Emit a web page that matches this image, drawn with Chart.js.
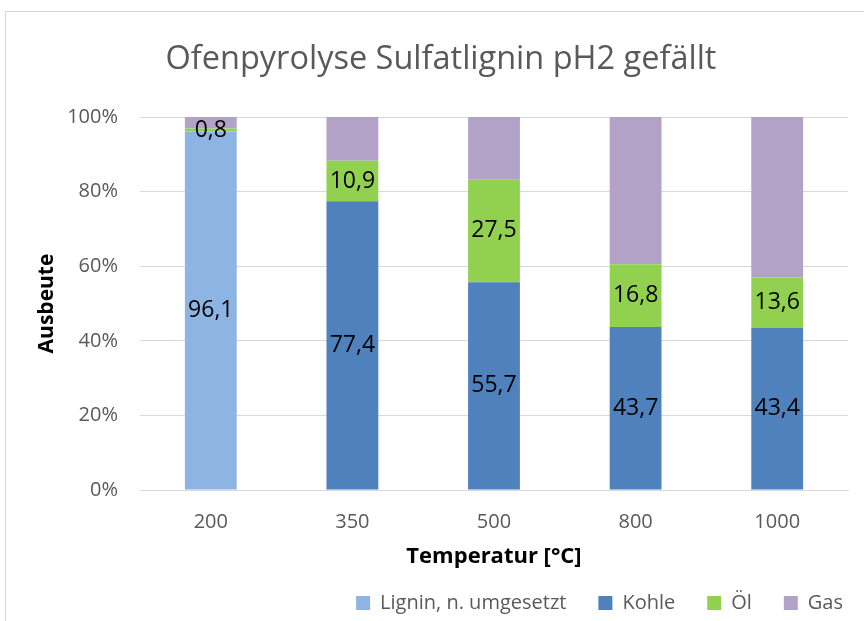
<!DOCTYPE html>
<html>
<head>
<meta charset="utf-8">
<script src="https://cdn.jsdelivr.net/npm/chart.js@4.4.1/dist/chart.umd.min.js"></script>
<style>
  html, body { margin: 0; padding: 0; background: #fff; }
  #wrap { width: 864px; height: 621px; }
</style>
</head>
<body>
<div id="wrap"><canvas id="c" width="864" height="621"></canvas></div>
<script>
// Temperatures (°C) and yield shares (%) per fraction
const categories = ['200', '350', '500', '800', '1000'];
const lignin = [96.1, null, null, null, null];
const kohle  = [null, 77.4, 55.7, 43.7, 43.4];
const oel    = [0.8, 10.9, 27.5, 16.8, 13.6];
const gas    = [3.1, 11.7, 16.8, 39.5, 43.0];
const yTicks = [0, 20, 40, 60, 80, 100];

const FONT = "'Open Sans', 'Liberation Sans', sans-serif";
const LEGEND_PAD = 32;      // horizontal gap between legend entries
const LEGEND_BAND = 28;     // vertical room kept for the legend row
const LEGEND_SHIFT_X = 27;  // legend row sits a bit further right

// Outer chart frame
const framePlugin = {
  id: 'frame',
  beforeDraw(chart) {
    const ctx = chart.ctx;
    ctx.save();
    ctx.fillStyle = '#ffffff';
    ctx.fillRect(0, 0, chart.width, chart.height);
    ctx.strokeStyle = '#D9D9D9';
    ctx.lineWidth = 1;
    ctx.strokeRect(5.5, 11.5, 1000, 1000);
    ctx.restore();
  }
};

// Keep the legend row compact vertically while its entries stay widely spaced
const legendBand = {
  id: 'legendBand',
  beforeLayout(chart) {
    const lg = chart.legend;
    if (lg && !lg._bandPatched) {
      const fit = lg.fit.bind(lg);
      lg.fit = function () { fit(); this.height = LEGEND_BAND; };
      lg._bandPatched = true;
    }
  },
  afterLayout(chart) {
    const lg = chart.legend;
    if (!lg) return;
    lg.top -= LEGEND_PAD;
    lg.left += LEGEND_SHIFT_X;
    lg.right += LEGEND_SHIFT_X;
  }
};

// Value labels in the middle of each segment (decimal comma)
const valueLabels = {
  id: 'valueLabels',
  afterDatasetsDraw(chart) {
    const ctx = chart.ctx;
    ctx.save();
    ctx.font = "23px " + FONT;
    ctx.fillStyle = '#000000';
    ctx.textAlign = 'center';
    ctx.textBaseline = 'middle';
    chart.data.datasets.forEach((ds, di) => {
      if (!ds.showLabels) return;
      const meta = chart.getDatasetMeta(di);
      meta.data.forEach((bar, i) => {
        const v = ds.data[i];
        if (v === null || v === undefined) return;
        const p = bar.getProps(['x', 'y', 'base'], true);
        const yMid = (p.y + p.base) / 2;
        ctx.fillText(v.toFixed(1).replace('.', ','), p.x, yMid);
      });
    });
    ctx.restore();
  }
};

new Chart(document.getElementById('c'), {
  type: 'bar',
  data: {
    labels: categories,
    datasets: [
      { label: 'Lignin, n. umgesetzt', data: lignin, backgroundColor: '#8EB4E3', showLabels: true },
      { label: 'Kohle', data: kohle, backgroundColor: '#4F81BD', showLabels: true },
      { label: 'Öl', data: oel, backgroundColor: '#92D050', showLabels: true },
      { label: 'Gas', data: gas, backgroundColor: '#B3A2C7', showLabels: false }
    ]
  },
  options: {
    responsive: false,
    animation: false,
    devicePixelRatio: 1,
    layout: { padding: { left: 34, right: 16, top: 0, bottom: 0 } },
    datasets: { bar: { categoryPercentage: 1, barPercentage: 0.366, borderWidth: 0 } },
    plugins: {
      title: {
        display: true,
        text: 'Ofenpyrolyse Sulfatlignin pH2 gefällt',
        color: '#595959',
        font: { family: FONT, size: 32.5, weight: 'normal' },
        padding: { top: 40, bottom: 38 }
      },
      legend: {
        position: 'bottom',
        align: 'end',
        labels: {
          color: '#595959',
          font: { family: FONT, size: 20 },
          boxWidth: 14,
          boxHeight: 14,
          padding: LEGEND_PAD
        }
      },
      tooltip: { enabled: false }
    },
    scales: {
      x: {
        stacked: true,
        afterFit(scale) { scale.height = 103; },
        grid: { display: false, drawTicks: false },
        border: { display: true, color: '#D9D9D9' },
        ticks: { color: '#595959', font: { family: FONT, size: 20 }, padding: 20 },
        title: {
          display: true,
          text: 'Temperatur [°C]',
          color: '#000000',
          font: { family: FONT, size: 22, weight: 'bold' },
          padding: { top: 10, bottom: 23 }
        }
      },
      y: {
        stacked: true,
        min: 0,
        max: 100,
        afterBuildTicks(scale) { scale.ticks = yTicks.map(v => ({ value: v })); },
        afterFit(scale) { scale.width = 106; },
        grid: { color: '#D9D9D9', drawTicks: false },
        border: { display: false },
        ticks: {
          color: '#595959',
          font: { family: FONT, size: 20 },
          padding: 22,
          callback: v => v + '%'
        },
        title: {
          display: true,
          text: 'Ausbeute',
          color: '#000000',
          font: { family: FONT, size: 21, weight: 'bold' },
          padding: { top: 0, bottom: 0 }
        }
      }
    }
  },
  plugins: [framePlugin, legendBand, valueLabels]
});
</script>
</body>
</html>
